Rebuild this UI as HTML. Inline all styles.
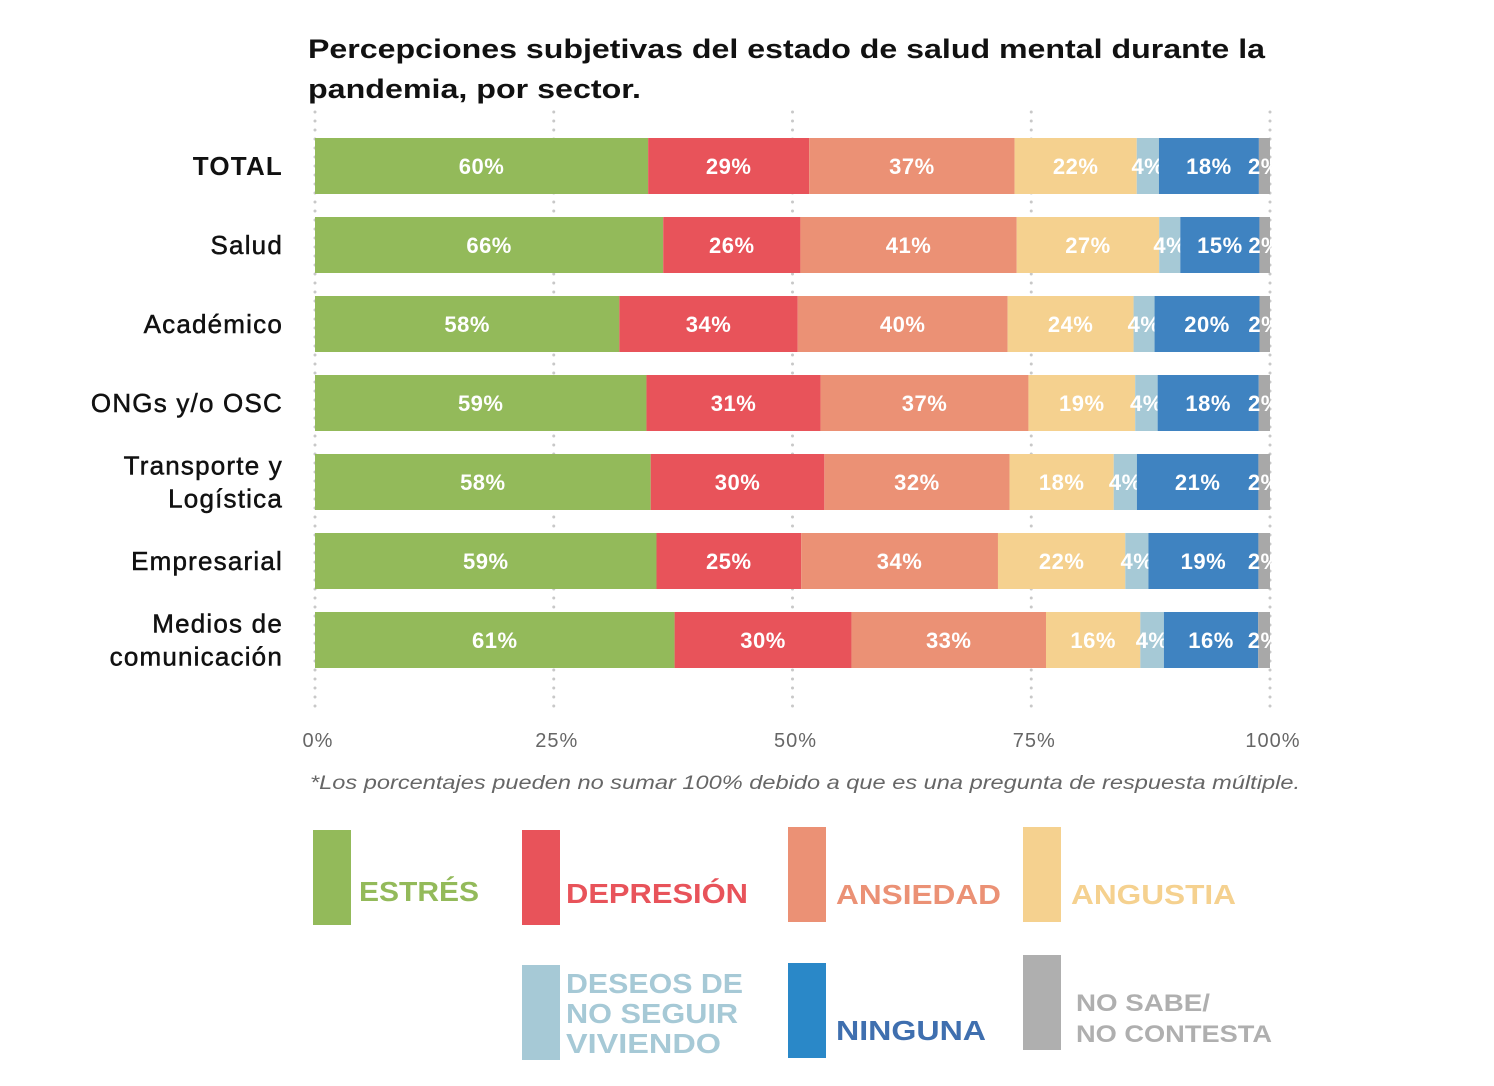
<!DOCTYPE html>
<html><head><meta charset="utf-8">
<style>
body{margin:0;background:#fff;font-family:"Liberation Sans",sans-serif;}
svg{display:block}
</style></head>
<body>
<svg id="chart" width="1494" height="1086" viewBox="0 0 1494 1086">
<text x="308" y="58" font-size="27" font-weight="bold" fill="#111" textLength="957" lengthAdjust="spacingAndGlyphs">Percepciones subjetivas del estado de salud mental durante la</text>
<text x="308" y="98" font-size="27" font-weight="bold" fill="#111" textLength="333" lengthAdjust="spacingAndGlyphs">pandemia, por sector.</text>
<g id="grid"></g>
<g id="bars"></g>
<g id="ylabels"></g>
<g id="xticks"></g>
<text x="310" y="789" font-size="19" font-style="italic" fill="#666" textLength="990" lengthAdjust="spacingAndGlyphs">*Los porcentajes pueden no sumar 100% debido a que es una pregunta de respuesta múltiple.</text>
<g id="legend" font-weight="bold">
<g><rect x="313" y="830" width="38" height="95" fill="#93BA5A"/><text x="359" y="901" font-size="28" fill="#93BA5A" textLength="120" lengthAdjust="spacingAndGlyphs">ESTRÉS</text></g>
<g><rect x="522" y="830" width="38" height="95" fill="#E8535A"/><text x="566" y="903" font-size="28" fill="#E8535A" textLength="182" lengthAdjust="spacingAndGlyphs">DEPRESIÓN</text></g>
<g><rect x="788" y="827" width="38" height="95" fill="#EB9175"/><text x="836" y="904" font-size="28" fill="#EB9175" textLength="165" lengthAdjust="spacingAndGlyphs">ANSIEDAD</text></g>
<g><rect x="1023" y="827" width="38" height="95" fill="#F5D18F"/><text x="1071" y="904" font-size="28" fill="#F5D18F" textLength="165" lengthAdjust="spacingAndGlyphs">ANGUSTIA</text></g>
<g><rect x="522" y="965" width="38" height="95" fill="#A6C9D6"/><text font-size="28" fill="#A6C9D6"><tspan x="566" y="993" textLength="177" lengthAdjust="spacingAndGlyphs">DESEOS DE</tspan><tspan x="566" y="1023" textLength="172" lengthAdjust="spacingAndGlyphs">NO SEGUIR</tspan><tspan x="566" y="1053" textLength="155" lengthAdjust="spacingAndGlyphs">VIVIENDO</tspan></text></g>
<g><rect x="788" y="963" width="38" height="95" fill="#2A88C8"/><text x="836" y="1040" font-size="28" fill="#3F6FAF" textLength="150" lengthAdjust="spacingAndGlyphs">NINGUNA</text></g>
<g><rect x="1023" y="955" width="38" height="95" fill="#AFAFAF"/><text font-size="24" fill="#AFAFAF"><tspan x="1076" y="1011" textLength="134" lengthAdjust="spacingAndGlyphs">NO SABE/</tspan><tspan x="1076" y="1042" textLength="196" lengthAdjust="spacingAndGlyphs">NO CONTESTA</tspan></text></g>
</g>
</svg>
<script>
const categories=["TOTAL","Salud","Académico","ONGs y/o OSC","Transporte y|Logística","Empresarial","Medios de|comunicación"];
const estres=[60,66,58,59,58,59,61];
const depresion=[29,26,34,31,30,25,30];
const ansiedad=[37,41,40,37,32,34,33];
const angustia=[22,27,24,19,18,22,16];
const deseos=[4,4,4,4,4,4,4];
const ninguna=[18,15,20,18,21,19,16];
const nosabe=[2,2,2,2,2,2,2];
const tickLabels=["0%","25%","50%","75%","100%"];
const tickValues=[0,25,50,75,100];
const series=[estres,depresion,ansiedad,angustia,deseos,ninguna,nosabe];
const seriesNames=["estres","depresion","ansiedad","angustia","deseos","ninguna","no-sabe"];
const colors=["#93BA5A","#E8535A","#EB9175","#F5D18F","#A6C9D6","#3F83C1","#A8A8A8"];
const NS="http://www.w3.org/2000/svg";
const x0=315,x1=1270,rowTop=138,rowStep=79,barH=56;
const xs=p=>x0+(x1-x0)*p/100;
const yr=i=>rowTop+i*rowStep;
function mk(t,a,parent){const e=document.createElementNS(NS,t);for(const k in a)e.setAttribute(k,a[k]);parent.appendChild(e);return e;}
const grid=document.getElementById('grid'),bars=document.getElementById('bars'),yl=document.getElementById('ylabels'),xt=document.getElementById('xticks');
tickValues.forEach((v,i)=>{
 const l=mk('line',{x1:xs(v),x2:xs(v),y1:112,y2:712,stroke:'#c8c8c8','stroke-width':3,'stroke-dasharray':'0 9','stroke-linecap':'round'},grid);
 
 
 const t=mk('text',{x:xs(v)+3,y:747,'font-size':20,fill:'#666','text-anchor':'middle','letter-spacing':1},xt);
 t.textContent=tickLabels[i];
 
 
});
categories.forEach((c,i)=>{
 const y=yr(i);
 let sum=0;series.forEach(s=>sum+=s[i]);
 let acc=0;
 series.forEach((s,j)=>{
  const a=xs(acc/sum*100),b=xs((acc+s[i])/sum*100);
  const r=mk('rect',{x:a,y:y,width:b-a,height:barH,fill:colors[j]},bars);
  
  
  const t=mk('text',{x:(a+b)/2,y:y+barH/2+8,'font-size':22,'font-weight':'bold',fill:'#fff','text-anchor':'middle','letter-spacing':0.5},bars);
  t.textContent=s[i]+'%';
  
  
  acc+=s[i];
 });
 const parts=c.split('|');
 const t=mk('text',{'font-size':26,'font-weight':(i==0?'bold':'normal'),fill:'#111','text-anchor':'end','letter-spacing':1.2,stroke:'#111','stroke-width':(i==0?0:0.5)},yl);
 
 
 parts.forEach((p,k)=>{const ts=mk('tspan',{x:283,y:y+barH/2+9+(k-(parts.length-1)/2)*33},t);ts.textContent=p;});
});
</script>
</body></html>
